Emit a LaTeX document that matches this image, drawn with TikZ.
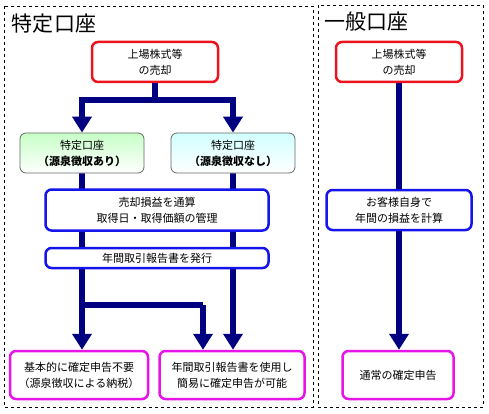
\documentclass[tikz,border=0pt]{standalone}
\usepackage{fontspec}
\setmainfont{Noto Sans CJK JP}
\usetikzlibrary{backgrounds}
\usetikzlibrary{arrows.meta}
\definecolor{navy}{RGB}{0,0,128}
\definecolor{salered}{RGB}{235,20,30}
\definecolor{procblue}{RGB}{20,20,235}
\definecolor{resmag}{RGB}{230,20,230}
\tikzstyle{chart}=[x=1pt, y=-1pt, font=\fontsize{11}{16}\selectfont]
\tikzstyle{frame}=[draw, dashed, thin]
\tikzstyle{title}=[inner sep=0pt, font=\fontsize{21}{24}\selectfont]
\tikzstyle{box}=[rectangle, rounded corners=6pt, align=center, inner sep=2pt, line width=2.5pt, fill=white]
\tikzstyle{sale}=[box, draw=salered, minimum width=126pt, minimum height=40pt]
\tikzstyle{acct}=[box, line width=0.8pt, draw=black!60, minimum width=124pt, minimum height=40pt]
\tikzstyle{proc}=[box, draw=procblue, minimum width=223pt]
\tikzstyle{res}=[box, draw=resmag, minimum height=48pt]
\tikzstyle{flow}=[draw=navy, line width=6pt, -{Triangle[width=19pt,length=16pt]}]
\tikzstyle{pipe}=[draw=navy, line width=6pt]

\begin{document}
\begin{tikzpicture}[chart]
	\useasboundingbox (0,0) rectangle (489,414);

	%The two frames
	\draw[frame] (4,6) rectangle (313,407);
	\draw[frame] (318,5) rectangle (483,407);
	\draw (54,24) node[title] (t1) {特定口座};
	\draw (366,22) node[title] (t2) {一般口座};

	%The specific account
	\draw (155,62) node[sale] (s1) {上場株式等\\の売却};
	\draw (82,153) node[acct, top color=green!22, bottom color=white] (a1) {特定口座\\\textbf{（源泉徴収あり）}};
	\draw (233,153) node[acct, top color=cyan!18, bottom color=white] (a2) {特定口座\\\textbf{（源泉徴収なし）}};
	\draw (157,210) node[proc, minimum height=41pt] (p1) {売却損益を通算\\取得日・取得価額の管理};
	\draw (157,258) node[proc, minimum height=20pt] (p2) {年間取引報告書を発行};
	\draw (79,375) node[res, minimum width=138pt] (r1) {基本的に確定申告不要\\（源泉徴収による納税）};
	\draw (232,375) node[res, minimum width=145pt] (r2) {年間取引報告書を使用し\\簡易に確定申告が可能};

	%The general account
	\draw (399,62) node[sale] (s2) {上場株式等\\の売却};
	\draw (399,210) node[box, draw=procblue, minimum width=145pt, minimum height=40pt] (p3) {お客様自身で\\年間の損益を計算};
	\draw (398,375) node[res, minimum width=111pt] (r3) {通常の確定申告};

	\coordinate (j1) at (155,100);
	\coordinate (j2) at (82,305);
	\coordinate (j3) at (203,305);

	\begin{pgfonlayer}{background}
	\draw[flow] (s1.south) -- (j1) -| (a1.north);
	\draw[flow] (j1) -| (a2.north);
	\draw[flow] (a1.south) -- (a1.south |- r1.north);
	\draw[flow] (a2.south) -- (a2.south |- r2.north);
	\draw[pipe] (j2) -- (j3);
	\draw[flow] (j3) -- (j3 |- r2.north);
	\draw[flow] (s2.south) -- (s2.south |- r3.north);
	\end{pgfonlayer}
\end{tikzpicture}
\end{document}
